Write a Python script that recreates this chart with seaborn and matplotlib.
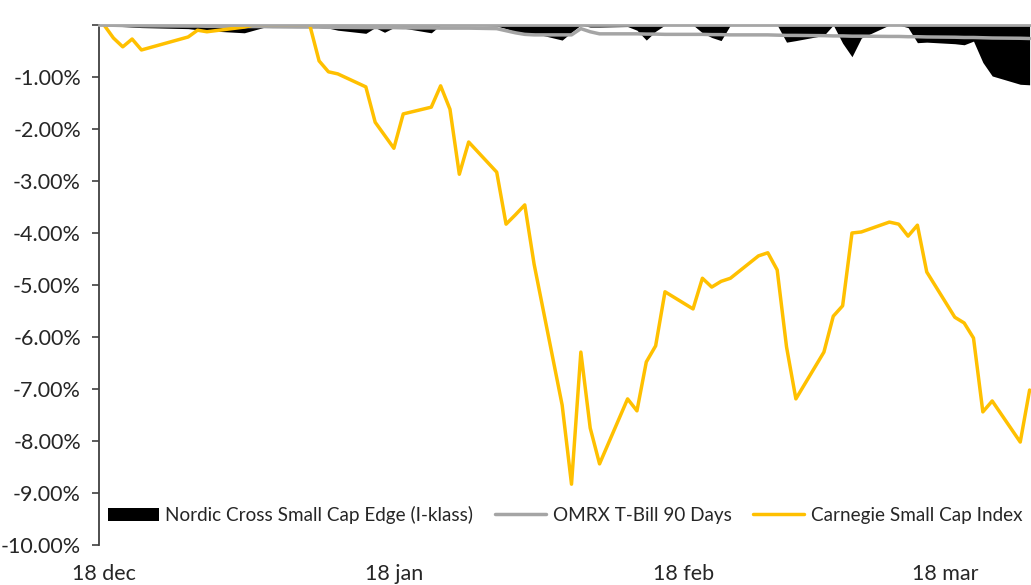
import pandas as pd
import numpy as np
import matplotlib
matplotlib.use("Agg")
import matplotlib.pyplot as plt
import matplotlib.ticker as mticker
import seaborn as sns

# ------------------------------
# Data: drawdown (%) per trading day
# ------------------------------
dates = pd.bdate_range("2017-12-18", "2018-03-27", freq="C",
                       holidays=["2017-12-25", "2017-12-26", "2018-01-01"])

nordic = [0, -0.02, -0.03, -0.04, -0.05, -0.07, -0.09, -0.11,
          -0.15, -0.10, -0.05, -0.03, -0.02, -0.03, -0.05, -0.06, -0.10, -0.16, -0.05, -0.14, -0.05,
          -0.06, -0.15, 0, 0, 0, 0, -0.02, -0.07, -0.13,
          -0.15, -0.16, -0.29, -0.14, 0, -0.04, -0.04, -0.03, -0.10, -0.29, -0.12, 0, 0, -0.15,
          -0.24, -0.30, 0, 0, 0, 0,
          -0.33, -0.30, -0.20, 0, -0.35, -0.61, -0.25, 0, 0, -0.05, -0.34, -0.33, -0.36, -0.38,
          -0.31, -0.72, -0.98, -1.14, -1.15]

tbill = [0, -0.005, -0.01, -0.01, -0.015, -0.02, -0.02, -0.025,
         -0.03, -0.03, -0.03, -0.035, -0.04, -0.04, -0.04, -0.045, -0.045, -0.05, -0.05, -0.05,
         -0.05, -0.055, -0.055, -0.06, -0.06, -0.06, -0.06, -0.07, -0.11, -0.15,
         -0.18, -0.19, -0.19, -0.19, -0.07, -0.13, -0.17, -0.17, -0.17, -0.175, -0.175, -0.18,
         -0.18, -0.18, -0.185, -0.185, -0.19, -0.19, -0.19, -0.195,
         -0.2, -0.2, -0.205, -0.21, -0.21, -0.215, -0.215, -0.22, -0.22, -0.225, -0.225, -0.23,
         -0.235, -0.24, -0.24, -0.245, -0.25, -0.255, -0.26]

carnegie = [0, -0.25, -0.42, -0.27, -0.48, -0.23, -0.10, -0.13,
            -0.04, 0, 0, 0, 0, 0, -0.69, -0.90, -0.94, -1.19, -1.87, -2.12, -2.37, -1.71, -1.58,
            -1.17, -1.62, -2.87, -2.25, -2.83, -3.83, -3.65,
            -3.46, -4.60, -7.31, -8.83, -6.29, -7.75, -8.44, -7.19, -7.42, -6.48, -6.17, -5.13,
            -5.46, -4.87, -5.04, -4.93, -4.87, -4.44, -4.38, -4.71,
            -6.19, -7.19, -6.29, -5.60, -5.40, -4.00, -3.98, -3.79, -3.83, -4.06, -3.85, -4.75,
            -5.62, -5.73, -6.02, -7.44, -7.23, -8.02, -7.02]

labels = ["Nordic Cross Small Cap Edge (I-klass)", "OMRX T-Bill 90 Days", "Carnegie Small Cap Index"]
tick_dates = pd.to_datetime(["2017-12-18", "2018-01-18", "2018-02-18", "2018-03-18"])
tick_labels = ["18 dec", "18 jan", "18 feb", "18 mar"]

# ------------------------------
# Plot
# ------------------------------
sns.set_style("white")
plt.rcParams["font.family"] = ["Lato", "DejaVu Sans"]

fig = plt.figure(figsize=(10.31, 5.85), dpi=100)
ax = fig.add_axes([99 / 1031, 40 / 585, 932 / 1031, 520 / 585])

ax.fill_between(dates, nordic, 0, color="black", lw=0, label=labels[0], zorder=1)
sns.lineplot(x=dates, y=tbill, color="#a5a5a5", lw=2.5, ax=ax, label=labels[1], zorder=2)
sns.lineplot(x=dates, y=carnegie, color="#ffc000", lw=2.5, ax=ax, label=labels[2], zorder=3)

start = dates[0]
ax.set_xlim(start - pd.Timedelta(hours=13), start + pd.Timedelta(days=99.15))
ax.set_ylim(-10, 0)
ax.set_yticks(np.arange(-10, 0.5, 1))
ax.yaxis.set_major_formatter(mticker.FuncFormatter(lambda v, p: "" if v == 0 else f"{v:.2f}%"))
ax.set_xticks(tick_dates)
ax.set_xticklabels(tick_labels)
ax.set_xlabel("")
ax.set_ylabel("")

ax.tick_params(axis="y", left=True, length=5, width=1.2, color="#404040", labelsize=15.5,
               labelcolor="#262626", pad=8)
ax.tick_params(axis="x", bottom=False, length=0, labelsize=15.5, labelcolor="#262626", pad=14)

for side in ["right", "bottom"]:
    ax.spines[side].set_visible(False)
ax.spines["left"].set_color("#404040")
ax.spines["left"].set_linewidth(1.3)
ax.spines["top"].set_color("#a6a6a6")
ax.spines["top"].set_linewidth(2)
ax.spines["top"].set_zorder(4)

leg = ax.legend(loc="center", bbox_to_anchor=(0.5, 0.058), ncol=3, frameon=False, fontsize=13.6,
                handlelength=2.7, handletextpad=0.35, columnspacing=1.15)
for t in leg.get_texts():
    t.set_color("#262626")

fig.savefig("out.png", dpi=100)
